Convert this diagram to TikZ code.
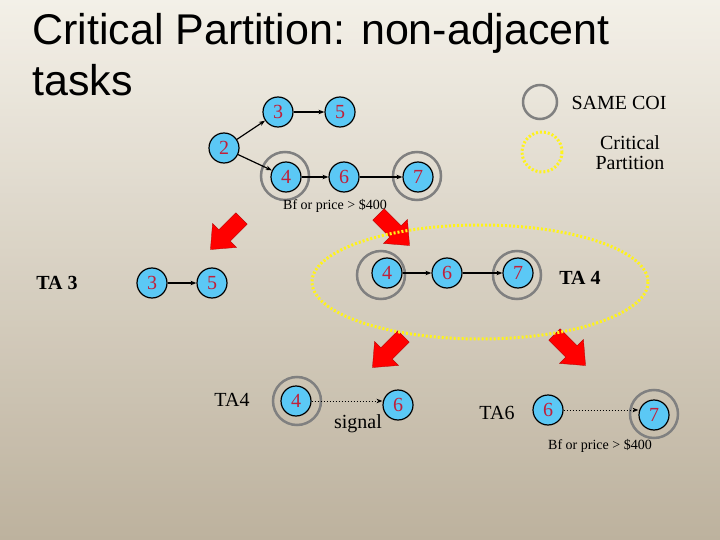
\documentclass[tikz,border=0pt]{standalone}
\usepackage{fontspec}
\setmainfont{Liberation Serif}
\newfontfamily\titlefont{Liberation Sans}
\usetikzlibrary{arrows.meta}
\definecolor{nodeblue}{HTML}{5BC8F5}
\definecolor{numred}{HTML}{C0203A}
\definecolor{bgA}{HTML}{EEE9DC}
\definecolor{bgB}{HTML}{BDB29E}
\tikzset{
  tn/.style={circle,draw=black,line width=1.2pt,fill=nodeblue,minimum size=30pt,inner sep=0pt,
    text=numred,font=\fontsize{20}{20}\selectfont},
  ring/.style={draw=gray,line width=2.5pt},
  yel/.style={draw=yellow!90!white,line width=3pt,dash pattern=on 2pt off 2pt},
  ed/.style={-{Stealth[length=6pt]},line width=1.2pt},
  dot/.style={-{Stealth[length=6pt]},line width=1pt,dotted},
  lab/.style={font=\fontsize{20}{20}\selectfont},
  small/.style={font=\fontsize{14}{14}\selectfont},
  pics/blockarrow/.style={code={
    \fill[red,draw=red!70!black,line width=0.3pt] (-22,-8)--(2,-8)--(2,-17)--(22,0)--(2,17)--(2,8)--(-22,8)--cycle;}}
}
\begin{document}
\begin{tikzpicture}[x=1pt,y=-1pt]
\useasboundingbox (0,0) rectangle (720,540);
\shade[left color=bgA,right color=bgB,shading angle=0] (0,0) rectangle (720,540);
\shade[top color=bgA!0,bottom color=bgB,opacity=0.35] (0,0) rectangle (720,540);
% title
\node[anchor=base west,font=\titlefont\fontsize{43}{43}\selectfont,inner sep=0] (t1) at (32,45) {Critical Partition: non-adjacent};
\node[anchor=base west,font=\titlefont\fontsize{43}{43}\selectfont,inner sep=0] (t2) at (32,96) {tasks};
% legend
\draw[ring] (540,102) circle (17);
\draw[yel] (542,152) circle (20);
\node[lab,anchor=west] (l1) at (568,103) {SAME COI};
\node[lab,align=center] (l2) at (630,153) {Critical\\Partition};
% top graph
\node[tn] (a2) at (224,148) {2};
\node[tn] (a3) at (278,112) {3};
\node[tn] (a5) at (340,112) {5};
\node[tn] (a4) at (286,177) {4};
\node[tn] (a6) at (344,177) {6};
\node[tn] (a7) at (418,177) {7};
\draw[ring] (285,176) circle (24);
\draw[ring] (417,176) circle (24);
\draw[ed] (a2)--(a3); \draw[ed] (a3)--(a5);
\draw[ed] (a2)--(a4); \draw[ed] (a4)--(a6); \draw[ed] (a6)--(a7);
\node[small] (bf1) at (335,206) {Bf or price > \$400};
% red arrows
\pic[rotate=-135] at (226,234) {blockarrow};
\pic[rotate=-45] at (394,230) {blockarrow};
\pic[rotate=-135] at (388,352) {blockarrow};
\pic[rotate=-45] at (570,350) {blockarrow};
% second row
\node[lab,font=\bfseries\fontsize{20}{20}\selectfont] (ta3) at (57,283) {TA 3};
\node[tn] (b3) at (152,283) {3};
\node[tn] (b5) at (212,283) {5};
\draw[ed] (b3)--(b5);
\draw[yel] (480,282) ellipse (168 and 57);
\node[tn] (c4) at (387,273) {4};
\node[tn] (c6) at (447,273) {6};
\node[tn] (c7) at (518,273) {7};
\draw[ring] (381,275) circle (24);
\draw[ring] (517,275) circle (24);
\draw[ed] (c4)--(c6); \draw[ed] (c6)--(c7);
\node[lab,font=\bfseries\fontsize{20}{20}\selectfont] (ta4) at (580,278) {TA 4};
% third row
\node[lab] (ta4b) at (232,400) {TA4};
\node[tn] (d4) at (296,401) {4};
\draw[ring] (297,401) circle (24);
\node[tn] (d6) at (398,405) {6};
\draw[dot] (d4.east)--(d6.west|-d4.east);
\node[lab] (sig) at (358,424) {signal};
\node[lab] (ta6) at (497,413) {TA6};
\node[tn] (e6) at (548,410) {6};
\node[tn] (e7) at (654,415) {7};
\draw[ring] (654,414) circle (24);
\draw[dot] (e6.east)--(e7.west|-e6.east);
\node[small] (bf2) at (600,446) {Bf or price > \$400};
\end{tikzpicture}
\end{document}
